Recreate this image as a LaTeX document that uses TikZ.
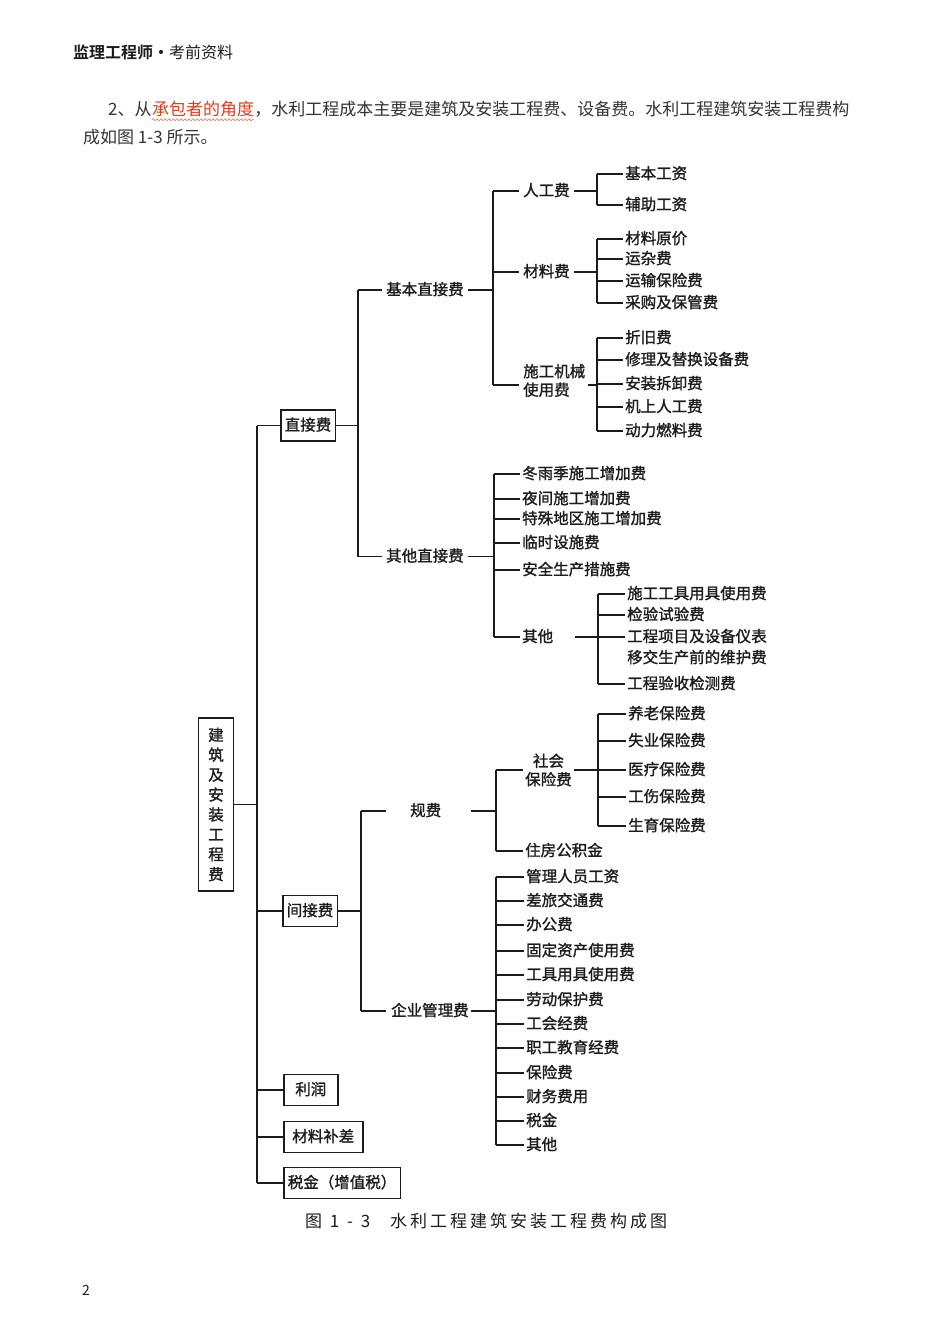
\documentclass[tikz,border=0pt]{standalone}
\usepackage{fontspec}
\usetikzlibrary{calc,decorations.pathmorphing}
\newfontfamily\cjk{Noto Sans CJK SC}
\newfontfamily\cjkm[FakeBold=1.3]{Noto Sans CJK SC}
\IfFontExistsTF{Noto Sans CJK SC Bold}{\newfontfamily\cjkb{Noto Sans CJK SC Bold}}{\newfontfamily\cjkb[FakeBold=2]{Noto Sans CJK SC}}
\definecolor{ink}{HTML}{1C1C1C}
\definecolor{redt}{HTML}{DC3E1E}
\definecolor{wave}{HTML}{E07A5A}
\newcommand\dgf{\cjkm\fontsize{15.5}{18.5}\selectfont}
\newcommand\parf{\cjk\fontsize{17}{20}\selectfont}
\newcommand\hf{\hfill}
\tikzset{
  ln/.style={draw=ink, line width=1.1pt},
  lbl/.style={anchor=west, inner xsep=2.5pt, inner ysep=1pt, text height=1.0em, text depth=0em, font=\dgf, text=ink},
  mlbl/.style={anchor=west, inner xsep=2.5pt, inner ysep=1pt, font=\dgf, text=ink},
  lvbox/.style={draw=ink, line width=1.6pt, anchor=west, inner xsep=4pt, minimum height=31pt, text height=1.0em, text depth=0em, font=\dgf, text=ink},
  ptxt/.style={anchor=west, inner sep=0pt, text height=0.8em, text depth=0.1em, font=\parf, text=ink!90},
}
\begin{document}
\begin{tikzpicture}[x=1pt,y=-1pt]
\path[use as bounding box, fill=white] (0,0) rectangle (950,1344);

% header and paragraph
\node[anchor=west, inner sep=0pt, font=\fontsize{16}{18}\selectfont, text=ink] (hdr) at (73,52) {{\cjkb 监理工程师・}{\cjk 考前资料}};
\node[ptxt] (p1a) at (108,112) {2、从};
\node[ptxt, anchor=west, text=redt] (p1b) at (p1a.east) {承包者的角度};
\node[ptxt, anchor=west] (p1c) at (p1b.east) {，水利工程成本主要是建筑及安装工程费、设备费。水利工程建筑安装工程费构};
\node[ptxt] (p2) at (83,140) {成如图 1-3 所示。};
\draw[wave, line width=0.6pt, decorate, decoration={snake, amplitude=1pt, segment length=4pt}] ($(p1b.south west)+(0,3)$) -- ($(p1b.south east)+(0,3)$);

% bus coordinates
\coordinate (bA) at (257,0);
\coordinate (bB1) at (358,0);
\coordinate (bC1) at (493,0);
\coordinate (bD1) at (597,0);
\coordinate (bD2) at (597,0);
\coordinate (bD3) at (597,0);
\coordinate (bC2) at (494,0);
\coordinate (bD4) at (598,0);
\coordinate (bB2) at (361,0);
\coordinate (bC3) at (496,0);
\coordinate (bD5) at (598,0);
\coordinate (bC4) at (496,0);

% root
\node[draw=ink, line width=1.6pt, minimum width=35pt, minimum height=173pt, inner sep=0pt, align=center, font=\cjkm\fontsize{15.5}{19.9}\selectfont, text=ink] (root) at (216,804.5) {建\\筑\\及\\安\\装\\工\\程\\费};

% level 1 boxes
\node[lvbox] (zj) at (280,425.5) {直接费};
\node[lvbox] (jj) at (282,911) {间接费};
\node[lvbox, minimum width=54pt] (lr) at (283,1090) {利润};
\node[lvbox, minimum width=79pt] (clbc) at (283,1137) {材料补差};
\node[lvbox] (sjz) at (283,1183) {税金（增值税）};

\draw[ln] (root.east) -- (root.east -| bA);
\draw[ln] (zj.west -| bA) -- (sjz.west -| bA);
\foreach \n in {zj,jj,lr,clbc,sjz} { \draw[ln] (\n.west -| bA) -- (\n.west); }

% ===== 直接费 =====
\node[lbl] (jbzj) at (383.5,290) {基本直接费};
\node[lbl] (qtzj) at (383.5,556.5) {其他直接费};
\draw[ln] (zj.east) -- (zj.east -| bB1);
\draw[ln] (jbzj.west -| bB1) -- (qtzj.west -| bB1);
\draw[ln, shorten >=2pt] (jbzj.west -| bB1) -- (jbzj.west);
\draw[ln, shorten >=2pt] (qtzj.west -| bB1) -- (qtzj.west);

% 基本直接费
\node[lbl] (rgf) at (520.5,191) {人工费};
\node[lbl] (clf) at (520.5,272) {材料费};
\node[mlbl, align=left] (sgjx) at (520.5,380.5) {施工机械\\使用费};
\coordinate (sgjxL) at ($(sgjx.west)+(0,4.5)$);
\coordinate (sgjxR) at ($(sgjx.east)+(0,4.5)$);
\draw[ln, shorten <=2pt] (jbzj.east) -- (jbzj.east -| bC1);
\draw[ln] (rgf.west -| bC1) -- (sgjxL -| bC1);
\draw[ln, shorten >=2pt] (rgf.west -| bC1) -- (rgf.west);
\draw[ln, shorten >=2pt] (clf.west -| bC1) -- (clf.west);
\draw[ln, shorten >=2pt] (sgjxL -| bC1) -- (sgjxL);

% 人工费
\foreach \n/\y/\t in {jbgz/174/基本工资, fzgz/205/辅助工资} {
  \node[lbl] (\n) at (622.5,\y) {\t};
  \draw[ln] (\n.west -| bD1) -- (\n.west);
}
\draw[ln, shorten <=2pt] (rgf.east) -- (rgf.east -| bD1);
\draw[ln] (jbgz.west -| bD1) -- (fzgz.west -| bD1);

% 材料费
\foreach \n/\y/\t in {clyj/239/材料原价, yzf/259/运杂费, ysbx/281/运输保险费, cgbg/303/采购及保管费} {
  \node[lbl] (\n) at (622.5,\y) {\t};
  \draw[ln] (\n.west -| bD2) -- (\n.west);
}
\draw[ln, shorten <=2pt] (clf.east) -- (clf.east -| bD2);
\draw[ln] (clyj.west -| bD2) -- (cgbg.west -| bD2);

% 施工机械使用费
\foreach \n/\y/\t in {zjf/338/折旧费, xlth/360/修理及替换设备费, azcx/384/安装拆卸费, jsrg/407/机上人工费, dlrl/431/动力燃料费} {
  \node[lbl] (\n) at (622.5,\y) {\t};
  \draw[ln] (\n.west -| bD3) -- (\n.west);
}
\draw[ln] (sgjxR) -- (sgjxR -| bD3);
\draw[ln] (zjf.west -| bD3) -- (dlrl.west -| bD3);

% 其他直接费
\foreach \n/\y/\t in {dyj/474/冬雨季施工增加费, yjsg/499/夜间施工增加费, tsdq/519/特殊地区施工增加费, lssf/543/临时设施费, aqsc/570/安全生产措施费, qt/637/其他} {
  \node[lbl] (\n) at (519.5,\y) {\t};
  \draw[ln] (\n.west -| bC2) -- (\n.west);
}
\draw[ln, shorten <=2pt] (qtzj.east) -- (qtzj.east -| bC2);
\draw[ln] (dyj.west -| bC2) -- (qt.west -| bC2);

% 其他
\foreach \n/\y/\t in {sggj/594/施工工具用具使用费, jysy/615/检验试验费, gcxm/637/工程项目及设备仪表, gcys/684/工程验收检测费} {
  \node[lbl] (\n) at (624.5,\y) {\t};
  \draw[ln] (\n.west -| bD4) -- (\n.west);
}
\node[lbl] (yjsc) at (624.5,658) {移交生产前的维护费};
\draw[ln, shorten <=19pt] (qt.east) -- (qt.east -| bD4);
\draw[ln] (sggj.west -| bD4) -- (gcys.west -| bD4);

% ===== 间接费 =====
\node[lbl] (gf) at (407.5,811) {规费};
\node[lbl] (qygl) at (388.5,1011) {企业管理费};
\draw[ln] (jj.east) -- (jj.east -| bB2);
\draw[ln] (gf.west -| bB2) -- (qygl.west -| bB2);
\draw[ln, shorten >=22pt] (gf.west -| bB2) -- (gf.west);
\draw[ln, shorten >=3pt] (qygl.west -| bB2) -- (qygl.west);

% 规费
\node[mlbl, align=center] (shbx) at (522.5,770) {社会\\保险费};
\node[lbl] (zfgj) at (522.5,851) {住房公积金};
\draw[ln, shorten <=27pt] (gf.east) -- (gf.east -| bC3);
\draw[ln] (shbx.west -| bC3) -- (zfgj.west -| bC3);
\draw[ln] (shbx.west -| bC3) -- (shbx.west);
\draw[ln] (zfgj.west -| bC3) -- (zfgj.west);

% 社会保险费
\foreach \n/\y/\t in {ylbx/714/养老保险费, sybx/741/失业保险费, yibx/770/医疗保险费, gsbx/797/工伤保险费, sybx2/826/生育保险费} {
  \node[lbl] (\n) at (625.5,\y) {\t};
  \draw[ln] (\n.west -| bD5) -- (\n.west);
}
\draw[ln] (shbx.east) -- (shbx.east -| bD5);
\draw[ln] (ylbx.west -| bD5) -- (sybx2.west -| bD5);

% 企业管理费
\foreach \n/\y/\t in {glry/877/管理人员工资, cljt/901/差旅交通费, bgf/925/办公费, gdzc/951/固定资产使用费, gjyj/975/工具用具使用费, ldbh/1000/劳动保护费, ghjf/1024/工会经费, zgjy/1048/职工教育经费, bxf/1073/保险费, cwfy/1097/财务费用, sj/1121/税金, qt2/1145/其他} {
  \node[lbl] (\n) at (523.5,\y) {\t};
  \draw[ln] (\n.west -| bC4) -- (\n.west);
}
\draw[ln] (qygl.east) -- (qygl.east -| bC4);
\draw[ln] (glry.west -| bC4) -- (qt2.west -| bC4);

% caption
\node[anchor=west, inner sep=0pt, font=\cjk\fontsize{17}{20}\selectfont, text=ink] (cap1) at (305,1221) {\makebox[65pt][s]{图\hf 1\hf -\hf 3}};
\node[anchor=west, inner sep=0pt, font=\cjk\fontsize{17}{20}\selectfont, text=ink] (cap2) at (390,1221) {\makebox[277pt][s]{水\hf 利\hf 工\hf 程\hf 建\hf 筑\hf 安\hf 装\hf 工\hf 程\hf 费\hf 构\hf 成\hf 图}};

% page number
\node[anchor=west, inner sep=0pt, font=\cjk\fontsize{14}{16}\selectfont, text=ink] (pg) at (82,1290) {2};
\end{tikzpicture}
\end{document}
